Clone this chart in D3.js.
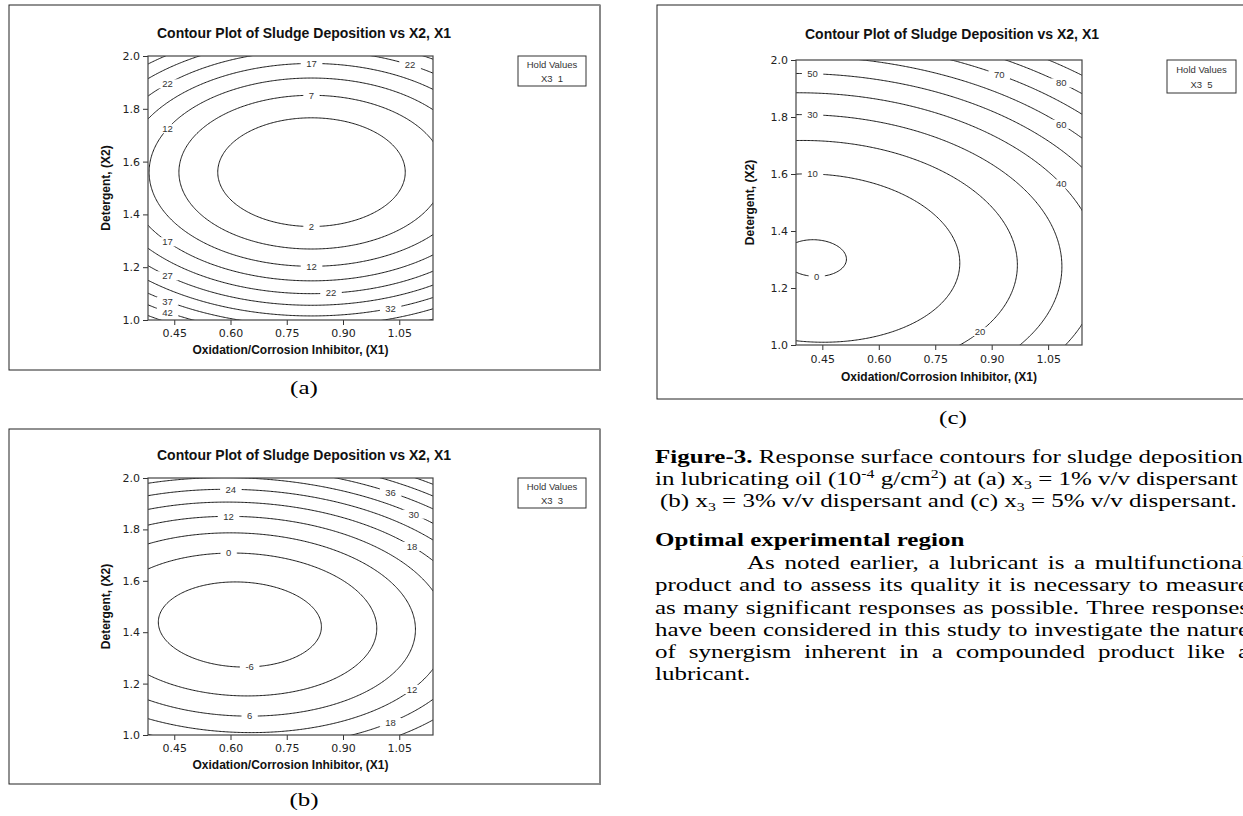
<!DOCTYPE html>
<html>
<head>
<meta charset="utf-8">
<script src="https://cdn.jsdelivr.net/npm/d3@7"></script>
<style>
body { margin: 0; background: #fff; overflow: hidden; }
text { white-space: pre; }
</style>
</head>
<body>
<script>
const width = 1243
const height = 816

// axis ranges and ticks (same for all three panels)
const x1Domain = [0.38, 1.14]
const x2Domain = [1.0, 2.0]
const x1Ticks = [0.45, 0.60, 0.75, 0.90, 1.05]
const x2Ticks = [1.0, 1.2, 1.4, 1.6, 1.8, 2.0]

const holdX3 = [1, 3, 5]
const panelNames = ["(a)", "(b)", "(c)"]

// response surface:
// [zMin, centre X1, centre X2, coef dx^2, coef dy^2, coef dx*dy]
const surfaceA = [-3, 0.816, 1.56, 80, 118, 0]
const surfaceB = [-9.3, 0.625, 1.43, 70, 120.7, 10]
const surfaceC = [-0.5, 0.43, 1.305, 71, 120.8, 11]

const levelsA = [2, 7, 12, 17, 22, 27, 32, 37, 42, 47]
const levelsB = [-6, 0, 6, 12, 18, 24, 30, 36, 42, 48]
const levelsC = [0, 10, 20, 30, 40, 50, 60, 70, 80, 90]

// contour labels: [level, X1, X2 guess]
const labelsA = [
    [17, 0.816, 1.96], [22, 1.079, 1.946], [22, 0.432, 1.908], [7, 0.816, 1.836], [12, 0.432, 1.746],
    [2, 0.816, 1.37], [17, 0.432, 1.30], [12, 0.816, 1.214], [27, 0.432, 1.181], [22, 0.868, 1.109],
    [37, 0.432, 1.082], [42, 0.432, 1.043], [32, 1.027, 1.043]
]
const labelsB = [
    [24, 0.601, 1.955], [36, 1.027, 1.944], [12, 0.595, 1.851], [30, 1.089, 1.857], [18, 1.084, 1.728],
    [0, 0.595, 1.708], [-6, 0.651, 1.262], [12, 1.084, 1.188], [6, 0.651, 1.071], [18, 1.027, 1.052]
]
const labelsC = [
    [50, 0.424, 1.947], [30, 0.424, 1.80], [10, 0.424, 1.60], [0, 0.435, 1.234], [70, 0.92, 1.947],
    [80, 1.085, 1.92], [60, 1.085, 1.775], [40, 1.085, 1.569], [20, 0.869, 1.043]
]

const captionLines = [
    [["Figure-3.", "b"], [" Response surface contours for sludge deposition"]],
    [["in lubricating oil (10"], ["-4", "sup"], [" g/cm"], ["2", "sup"], [") at (a) x"], ["3", "sub"], [" = 1% v/v dispersant"]],
    [["(b) x"], ["3", "sub"], [" = 3% v/v dispersant and (c) x"], ["3", "sub"], [" = 5% v/v dispersant."]]
]
const headingText = "Optimal experimental region"
const paragraphLines = [
    "As noted earlier, a lubricant is a multifunctional",
    "product and to assess its quality it is necessary to measure",
    "as many significant responses as possible. Three responses",
    "have been considered in this study to investigate the nature",
    "of synergism inherent in a compounded product like a",
    "lubricant."
]

const zAt = (s, x, y) => {
    const dx = x - s[1], dy = y - s[2]
    return s[0] + s[3] * dx * dx + s[4] * dy * dy + s[5] * dx * dy
}
const dzdy = (s, x, y) => 2 * s[4] * (y - s[2]) + s[5] * (x - s[1])

const panels = [
    {surface: surfaceA, levels: levelsA, labels: labelsA,
     frame: [9, 5, 600, 370], plot: [148, 56, 433, 320], title: [304, 38],
     hold: [518, 56, 586, 86], name: [304, 394], tickGap: 4, labelGap: 34},
    {surface: surfaceB, levels: levelsB, labels: labelsB,
     frame: [9, 429, 600, 784], plot: [148, 478, 433, 735], title: [304, 460],
     hold: [518, 478, 586, 508], name: [304, 806], tickGap: 4, labelGap: 34},
    {surface: surfaceC, levels: levelsC, labels: labelsC,
     frame: [657, 5, 1262, 399], plot: [796, 60, 1082, 345], title: [952, 39],
     hold: [1167, 60, 1236, 93], name: [953, 424], tickGap: 5, labelGap: 36}
]

const svg = d3.select("body").append("svg")
    .attr("width", width)
    .attr("height", height)
    .attr("font-family", "'Liberation Sans', Arial, sans-serif")

const defs = svg.append("defs")
const serif = "'Liberation Serif', 'Times New Roman', Times, serif"

// caption and paragraph text (the scanned page is stretched sideways)
const tg = svg.append("g")
    .attr("font-family", serif).attr("font-size", 19).attr("fill", "#000")

const captionY = [463, 485, 507]
const captionX = [0, 0, 5]
const captionText = captionLines.map((segs, i) => {
    const t = tg.append("text").attr("y", captionY[i])
    let shift = 0
    segs.forEach(([s, kind]) => {
        const ts = t.append("tspan").text(s)
        let target = 0
        if (kind === "b") ts.attr("font-weight", "bold")
        if (kind === "sup") { ts.attr("font-size", 12); target = -7 }
        if (kind === "sub") { ts.attr("font-size", 12); target = 4 }
        ts.attr("dy", target - shift)
        shift = target
    })
    return t
})
const textScale = 577 / captionText[2].node().getComputedTextLength()
tg.attr("transform", `translate(655,0) scale(${textScale},1)`)
captionText.forEach((t, i) => t.attr("x", captionX[i] / textScale))

tg.append("text").attr("x", 0).attr("y", 546)
    .attr("font-weight", "bold").text(headingText)

const colRight = 1249
const paraY = [569, 591, 614, 636, 658, 680]
const paraX = [92, 0, 0, 0, 0, 0]
paragraphLines.forEach((line, i) => {
    const t = tg.append("text").attr("y", paraY[i])
    const x0 = paraX[i] / textScale
    if (i === paragraphLines.length - 1) {
        t.attr("x", x0).text(line)
        return
    }
    const words = line.split(" ")
    const widths = words.map(w => {
        const tmp = tg.append("text").text(w)
        const wd = tmp.node().getComputedTextLength()
        tmp.remove()
        return wd
    })
    const target = (colRight - 655) / textScale - x0
    const gap = (target - d3.sum(widths)) / (words.length - 1)
    let cx = x0
    words.forEach((w, k) => {
        t.append("tspan").attr("x", cx).text(w)
        cx += widths[k] + gap
    })
})

panels.forEach((p, pi) => {
    const [px0, py0, px1, py1] = p.plot
    const x = d3.scaleLinear().domain(x1Domain).range([px0, px1])
    const y = d3.scaleLinear().domain(x2Domain).range([py1, py0])
    const g = svg.append("g")

    // panel frame
    const [fx0, fy0, fx1, fy1] = p.frame
    g.append("rect")
        .attr("x", fx0).attr("y", fy0)
        .attr("width", fx1 - fx0).attr("height", fy1 - fy0)
        .attr("fill", "none").attr("stroke", "#222").attr("stroke-width", 1)
    g.append("line")
        .attr("x1", fx1).attr("x2", fx1).attr("y1", fy0).attr("y2", fy1 + 1)
        .attr("stroke", "#888").attr("stroke-width", 2)

    g.append("text")
        .attr("x", p.title[0]).attr("y", p.title[1])
        .attr("text-anchor", "middle")
        .attr("font-weight", "bold").attr("font-size", 14)
        .attr("fill", "#111")
        .text("Contour Plot of Sludge Deposition vs X2, X1")

    // grid of the surface, a little wider than the plot so edges get clipped
    const nx = 220, ny = 220, pad = 0.02
    const gx0 = x1Domain[0] - pad, gx1 = x1Domain[1] + pad
    const gy0 = x2Domain[0] - pad, gy1 = x2Domain[1] + pad
    const stepX = (gx1 - gx0) / (nx - 1), stepY = (gy1 - gy0) / (ny - 1)
    const values = new Float64Array(nx * ny)
    for (let j = 0; j < ny; j++) {
        for (let i = 0; i < nx; i++) {
            values[j * nx + i] = zAt(p.surface, gx0 + i * stepX, gy1 - j * stepY)
        }
    }
    const contours = d3.contours().size([nx, ny]).thresholds(p.levels)(values)
    const path = d3.geoPath(d3.geoTransform({
        point(u, v) {
            this.stream.point(x(gx0 + (u - 0.5) * stepX), y(gy1 - (v - 0.5) * stepY))
        }
    }))

    defs.append("clipPath").attr("id", `clip${pi}`)
        .append("rect").attr("x", px0).attr("y", py0)
        .attr("width", px1 - px0).attr("height", py1 - py0)

    // label positions put on the line
    const lab = p.labels.map(([lev, lx, ly]) => {
        let yy = ly
        for (let k = 0; k < 12; k++) {
            const d = dzdy(p.surface, lx, yy)
            if (Math.abs(d) < 1e-6) break
            yy -= (zAt(p.surface, lx, yy) - lev) / d
        }
        return {lev, px: x(lx), py: y(yy)}
    })

    const lg = g.append("g")
        .attr("font-size", 9.5).attr("fill", "#333")
        .attr("text-anchor", "middle")
    lab.forEach(d => {
        const t = lg.append("text").attr("x", d.px).attr("y", d.py).attr("dy", "0.35em").text(d.lev)
        d.w = t.node().getComputedTextLength()
    })

    p.levels.forEach((lev, li) => {
        const m = defs.append("mask").attr("id", `mask${pi}_${li}`)
            .attr("maskUnits", "userSpaceOnUse")
            .attr("x", 0).attr("y", 0).attr("width", width).attr("height", height)
        m.append("rect").attr("width", width).attr("height", height).attr("fill", "#fff")
        lab.filter(d => d.lev === lev).forEach(d => {
            m.append("rect")
                .attr("x", d.px - d.w / 2 - 5.5).attr("y", d.py - 4.5)
                .attr("width", d.w + 11).attr("height", 9)
                .attr("fill", "#000")
        })
    })

    const cg = g.insert("g", () => lg.node()).attr("clip-path", `url(#clip${pi})`)
    contours.forEach(c => {
        const li = p.levels.indexOf(c.value)
        cg.append("path")
            .attr("d", path(c))
            .attr("fill", "none")
            .attr("stroke", "#000")
            .attr("stroke-width", 0.9)
            .attr("mask", `url(#mask${pi}_${li})`)
    })

    // axes
    const xAxis = g.append("g")
        .attr("transform", `translate(0,${py1})`)
        .call(d3.axisBottom(x).tickValues(x1Ticks).tickFormat(d3.format(".2f"))
            .tickSize(5).tickPadding(p.tickGap))
    const yAxis = g.append("g")
        .attr("transform", `translate(${px0},0)`)
        .call(d3.axisLeft(y).tickValues(x2Ticks).tickFormat(d3.format(".1f"))
            .tickSize(5).tickPadding(3))
    ;[xAxis, yAxis].forEach(a => {
        a.select(".domain").remove()
        a.selectAll(".tick line").attr("stroke", "#333")
        a.selectAll(".tick text")
            .attr("font-family", "'DejaVu Sans', Verdana, sans-serif")
            .attr("font-size", 11).attr("fill", "#222")
    })

    g.append("rect")
        .attr("x", px0).attr("y", py0)
        .attr("width", px1 - px0).attr("height", py1 - py0)
        .attr("fill", "none").attr("stroke", "#444").attr("stroke-width", 1.2)

    g.append("text")
        .attr("x", (px0 + px1) / 2).attr("y", py1 + p.labelGap)
        .attr("text-anchor", "middle")
        .attr("font-weight", "bold").attr("font-size", 12).attr("fill", "#111")
        .text("Oxidation/Corrosion Inhibitor, (X1)")

    g.append("text")
        .attr("transform", `translate(${px0 - (pi === 2 ? 46 : 42)},${(py0 + py1) / 2}) rotate(-90)`)
        .attr("dy", "0.35em")
        .attr("text-anchor", "middle")
        .attr("font-weight", "bold").attr("font-size", 12).attr("fill", "#111")
        .text("Detergent, (X2)")

    // hold values box
    const [hx0, hy0, hx1, hy1] = p.hold
    g.append("rect")
        .attr("x", hx0).attr("y", hy0)
        .attr("width", hx1 - hx0).attr("height", hy1 - hy0)
        .attr("fill", "none").attr("stroke", "#333")
    g.append("text")
        .attr("x", (hx0 + hx1) / 2).attr("y", hy0 + (hy1 - hy0) * 0.4)
        .attr("text-anchor", "middle").attr("font-size", 9.5).attr("fill", "#333")
        .text("Hold Values")
    g.append("text")
        .attr("x", (hx0 + hx1) / 2).attr("y", hy0 + (hy1 - hy0) * 0.86)
        .attr("text-anchor", "middle").attr("font-size", 9.5).attr("fill", "#333")
        .text(`X3  ${holdX3[pi]}`)

    svg.append("text")
        .attr("transform", `translate(${p.name[0]},${p.name[1]}) scale(${textScale},1)`)
        .attr("text-anchor", "middle")
        .attr("font-family", serif).attr("font-size", 19)
        .text(panelNames[pi])
})
</script>
</body>
</html>
